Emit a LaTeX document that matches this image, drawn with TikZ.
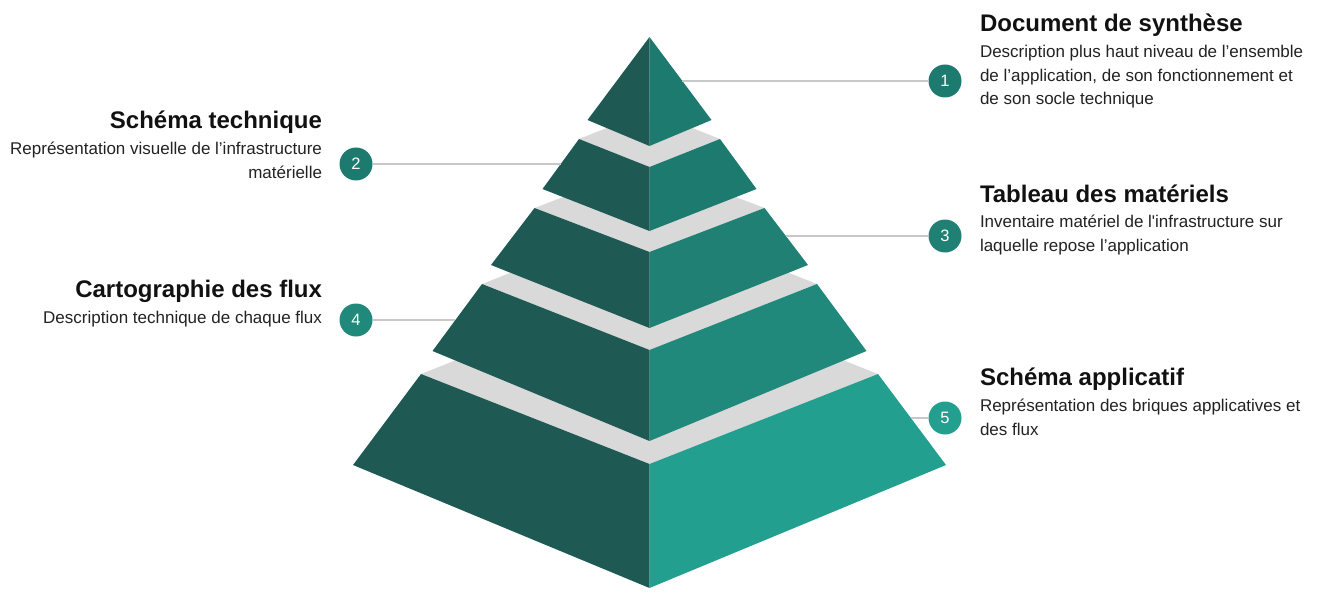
\documentclass[tikz,border=0pt]{standalone}
\usepackage{fontspec}
\setmainfont{Liberation Sans}

\definecolor{leftside}{HTML}{1E5A53}
\definecolor{tier1}{HTML}{1D7A6F}
\definecolor{tier2}{HTML}{1D7A6F}
\definecolor{tier3}{HTML}{1F8073}
\definecolor{tier4}{HTML}{21897B}
\definecolor{tier5}{HTML}{239F90}
\definecolor{topgrey}{HTML}{D9D9D9}
\definecolor{linkgrey}{HTML}{C8C8C8}
\definecolor{headtext}{HTML}{111111}
\definecolor{desctext}{HTML}{222222}

\begin{document}
\begin{tikzpicture}[
x=1bp, y=-1bp,
every node/.style={inner sep=0pt, outer sep=0pt},
head/.style={
	font=\fontsize{24bp}{28bp}\selectfont\bfseries,
	text=headtext
},
desc/.style={
	font=\fontsize{17bp}{23.5bp}\selectfont,
	text=desctext
},
num/.style={
	circle,
	minimum size=33bp,
	text=white,
	font=\fontsize{16.5bp}{16.5bp}\selectfont
},
link/.style={
	draw=linkgrey,
	line width=1.5bp
}
]
\useasboundingbox (0,0) rectangle (1324,600);

% Tier 5 (bottom)
\fill[topgrey] (421,374) -- (649.5,284) -- (878,374) -- (649.5,464) -- cycle;
\fill[leftside] (421,374) -- (353,465) -- (649.5,588) -- (649.5,464) -- cycle;
\fill[tier5] (878,374) -- (946,465) -- (649.5,588) -- (649.5,464) -- cycle;

% Tier 4
\fill[topgrey] (482,284) -- (649.5,218) -- (817,284) -- (649.5,350) -- cycle;
\fill[leftside] (482,284) -- (432.5,351) -- (649.5,441) -- (649.5,350) -- cycle;
\fill[tier4] (817,284) -- (866.5,351) -- (649.5,441) -- (649.5,350) -- cycle;

% Tier 3
\fill[topgrey] (534.5,208) -- (649.5,164) -- (764.5,208) -- (649.5,252) -- cycle;
\fill[leftside] (534.5,208) -- (491,265) -- (649.5,328) -- (649.5,252) -- cycle;
\fill[tier3] (764.5,208) -- (808,265) -- (649.5,328) -- (649.5,252) -- cycle;

% Tier 2
\fill[topgrey] (579,139) -- (649.5,111) -- (720,139) -- (649.5,167) -- cycle;
\fill[leftside] (579,139) -- (542.5,189) -- (649.5,231) -- (649.5,167) -- cycle;
\fill[tier2] (720,139) -- (756.5,189) -- (649.5,231) -- (649.5,167) -- cycle;

% Tier 1 (top)
\fill[leftside] (649.5,37) -- (587.5,120) -- (649.5,146) -- cycle;
\fill[tier1] (649.5,37) -- (711.5,120) -- (649.5,146) -- cycle;

% Anchor points on the pyramid edges
\coordinate (Edge 1) at (682.4,81);
\coordinate (Edge 2) at (560.8,164);
\coordinate (Edge 3) at (785.9,236);
\coordinate (Edge 4) at (455.4,320);
\coordinate (Edge 5) at (910.9,418);

% Numbers
\node [num, fill=tier1] (Num 1) at (945,81) {1};
\node [num, fill=tier2] (Num 2) at (356,164) {2};
\node [num, fill=tier3] (Num 3) at (945,236) {3};
\node [num, fill=tier4] (Num 4) at (356,320) {4};
\node [num, fill=tier5] (Num 5) at (945,418) {5};

% Links
\foreach \i in {1,...,5}
	\draw [link] (Edge \i) -- (Num \i);

% Headings
\node [head, anchor=base west] (Head 1) at (980,32) {Document de synthèse};
\node [head, anchor=base east] (Head 2) at (322,129) {Schéma technique};
\node [head, anchor=base west] (Head 3) at (980,202) {Tableau des matériels};
\node [head, anchor=base east] (Head 4) at (322,297) {Cartographie des flux};
\node [head, anchor=base west] (Head 5) at (980,385) {Schéma applicatif};

% Descriptions (base = last line)
\node [desc, anchor=base west, align=left] (Desc 1) at (980,105)
	{Description plus haut niveau de l’ensemble\\de l’application, de son fonctionnement et\\de son socle technique};
\node [desc, anchor=base east, align=right] (Desc 2) at (322,178.5)
	{Représentation visuelle de l’infrastructure\\matérielle};
\node [desc, anchor=base west, align=left] (Desc 3) at (980,251)
	{Inventaire matériel de l\textquotesingle infrastructure sur\\laquelle repose l’application};
\node [desc, anchor=base east, align=right] (Desc 4) at (322,323)
	{Description technique de chaque flux};
\node [desc, anchor=base west, align=left] (Desc 5) at (980,435)
	{Représentation des briques applicatives et\\des flux};

\end{tikzpicture}
\end{document}
